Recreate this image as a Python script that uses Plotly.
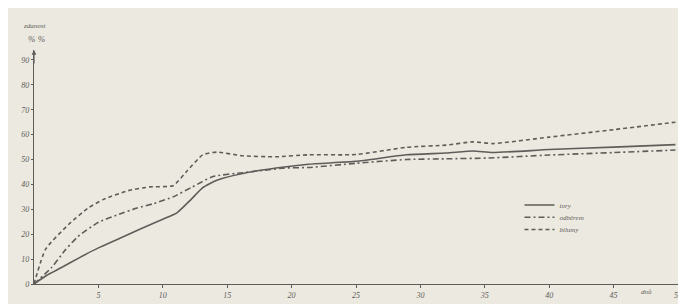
import plotly.graph_objects as go

# days
x_solid = [0, 1, 2.1, 3.5, 5, 6.5, 8.3, 10, 11.1, 12.2, 13.1, 14.2, 16.2, 18.8, 21.3, 25, 28.9, 32, 34.1, 35.6, 40, 45, 49.8]
y_solid = [0, 3.5, 6.5, 10.5, 14.5, 18, 22.2, 26, 28.6, 34, 38.7, 41.7, 44.4, 46.6, 48.1, 49.3, 51.9, 52.6, 53.4, 52.8, 54, 55, 56]

x_dashdot = [0, 1.4, 2.4, 3.4, 5, 6.5, 8, 9.3, 10.8, 12.3, 13.9, 16.2, 19.5, 21.3, 25, 28.9, 32, 35.3, 40, 45, 49.8]
y_dashdot = [0, 6.8, 13.5, 19, 24.8, 27.8, 30.5, 32.3, 35, 39, 43.2, 44.7, 46.6, 46.8, 48.5, 50, 50.3, 50.6, 51.8, 52.8, 53.8]

x_dash = [0, 0.9, 2.7, 4.2, 5.4, 7.3, 9, 10.8, 11.9, 13.1, 14.2, 16.2, 18.8, 21.3, 25, 28.9, 32, 34.1, 35.6, 40, 45, 49.8]
y_dash = [0, 14, 24, 30.5, 34, 37.5, 39, 39.5, 45.5, 51.9, 53, 51.5, 51.1, 51.9, 52, 54.9, 55.8, 57.1, 56.4, 59, 62, 65]

names = ["tory", "odběrem", "bilumy"]
y_ticks = [0, 10, 20, 30, 40, 50, 60, 70, 80, 90]
x_ticks = [5, 10, 15, 20, 25, 30, 35, 40, 45, 50]

ink = "#5f5d59"
paper = "#ece9e1"
txt = "#5f5d59"
fnt = dict(family="Liberation Serif", size=8, color=txt, style="italic")

W, H = 686, 304
L, R, T, B = 22, 14, 42, 13
PW, PH = W - L - R, H - T - B


def px_x(px):
    return (px - L) / PW


def px_y(py):
    return (H - B - py) / PH


fig = go.Figure()
fig.add_trace(go.Scatter(x=x_solid, y=y_solid, mode="lines", name=names[0], legend="legend",
                         line=dict(color=ink, width=1.6, shape="spline", smoothing=0.5)))
fig.add_trace(go.Scatter(x=x_dashdot, y=y_dashdot, mode="lines", name=names[1], legend="legend2",
                         line=dict(color=ink, width=1.6, dash="6px,3px,2px,3px", shape="spline", smoothing=0.5)))
fig.add_trace(go.Scatter(x=x_dash, y=y_dash, mode="lines", name=names[2], legend="legend3",
                         line=dict(color=ink, width=1.6, dash="4px,3px", shape="spline", smoothing=0.5)))

leg_font = dict(family="Liberation Serif", size=7, color=txt, style="italic")
leg_common = dict(xanchor="left", yanchor="middle", bgcolor="rgba(0,0,0,0)",
                  font=leg_font, itemwidth=30, borderwidth=0)

fig.update_layout(
    width=W, height=H,
    margin=dict(l=L, r=R, t=T, b=B),
    paper_bgcolor=paper, plot_bgcolor=paper,
    font=fnt,
    showlegend=True,
    legend=dict(x=px_x(512), y=px_y(207), **leg_common),
    legend2=dict(x=px_x(512), y=px_y(220), **leg_common),
    legend3=dict(x=px_x(512), y=px_y(233), **leg_common),
    xaxis=dict(range=[0, 50], tickvals=x_ticks, showgrid=False, zeroline=False,
               showline=True, linecolor=ink, linewidth=1.2, ticks="outside", ticklen=3,
               tickcolor=ink, tickfont=fnt, ticklabelstandoff=0),
    yaxis=dict(range=[0, 94], tickvals=y_ticks, showgrid=False, zeroline=False,
               showline=True, linecolor=ink, linewidth=1.2, ticks="outside", ticklen=2,
               tickcolor=ink, tickfont=fnt),
)

fig.add_annotation(x=px_x(23), y=px_y(16), xref="paper", yref="paper", text="zdanost",
                   showarrow=False, xanchor="center", yanchor="middle",
                   font=dict(family="Liberation Serif", size=7, color=txt, style="italic"))
fig.add_annotation(x=px_x(25), y=px_y(30), xref="paper", yref="paper", text="% %",
                   showarrow=False, xanchor="center", yanchor="middle",
                   font=dict(family="Liberation Serif", size=9, color=txt, style="italic"))
fig.add_annotation(x=px_x(640), y=px_y(300), xref="paper", yref="paper", text="dnů",
                   showarrow=False, xanchor="center", yanchor="middle",
                   font=dict(family="Liberation Serif", size=7, color=txt, style="italic"))
# arrowhead on the y axis
fig.add_annotation(x=0, y=94, ax=0, ay=88, xref="x", yref="y", axref="x", ayref="y",
                   text="", showarrow=True, arrowhead=2, arrowsize=0.8, arrowwidth=1.2,
                   arrowcolor=ink)

fig.write_html("out.html")
